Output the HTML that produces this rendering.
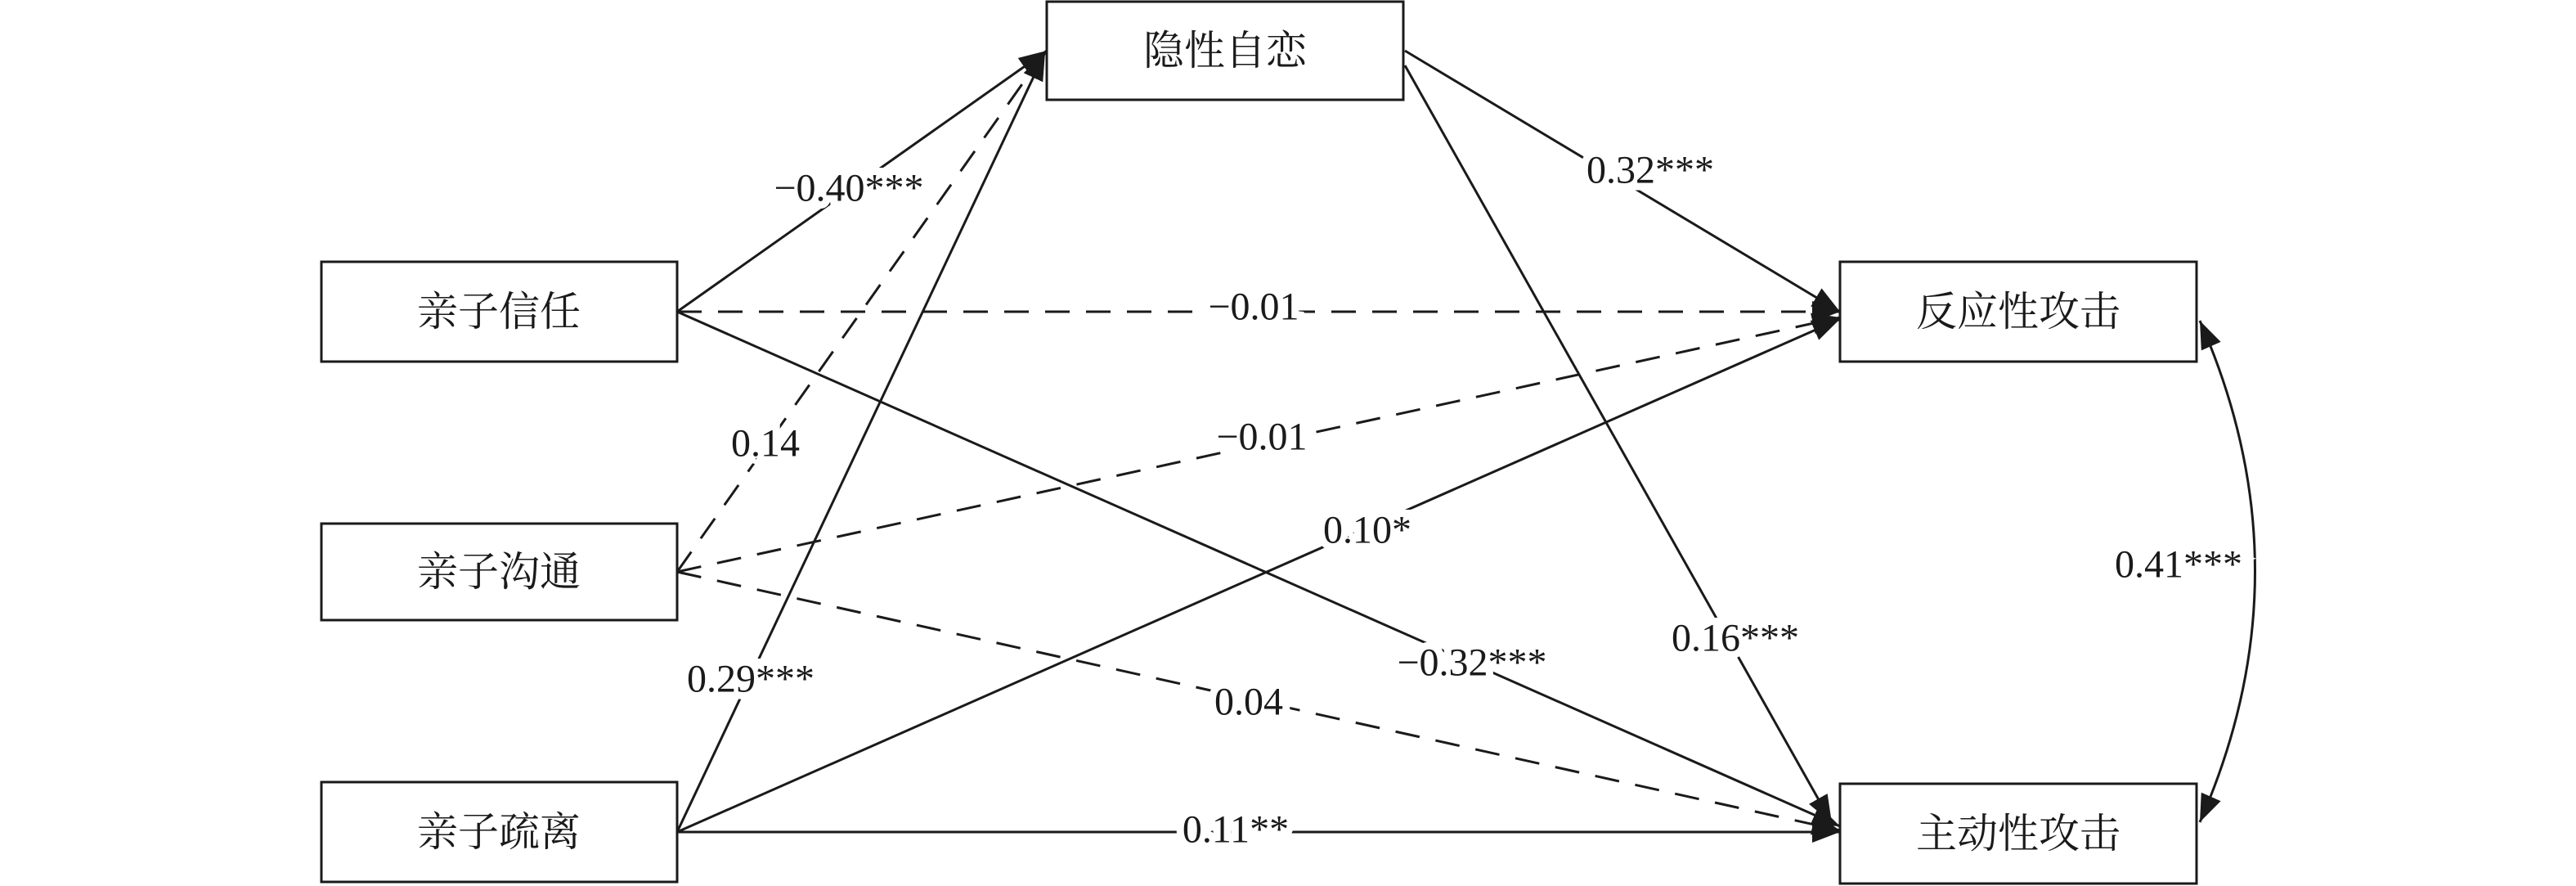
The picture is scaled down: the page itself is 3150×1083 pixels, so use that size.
<!DOCTYPE html>
<html><head><meta charset="utf-8"><style>
html,body{margin:0;padding:0;background:#fff;}
svg{display:block;}
.t{font-family:"Liberation Serif","Noto Serif CJK SC",serif;font-size:50px;fill:#1a1a1a;text-anchor:middle;dominant-baseline:central;}
.l{font-family:"Liberation Serif",serif;font-size:48px;fill:#1a1a1a;text-anchor:middle;dominant-baseline:central;paint-order:stroke;stroke:#fff;stroke-width:18px;}
</style></head><body>
<svg width="3150" height="1083" viewBox="0 0 3150 1083" xmlns="http://www.w3.org/2000/svg">
<defs>
<marker id="a" markerUnits="userSpaceOnUse" markerWidth="40" markerHeight="30" refX="34" refY="13" orient="auto">
<path d="M0,0 L34,13 L0,26 Z" fill="#1a1a1a"/></marker>
<marker id="as" markerUnits="userSpaceOnUse" markerWidth="40" markerHeight="30" refX="0" refY="13" orient="auto">
<path d="M34,0 L0,13 L34,26 Z" fill="#1a1a1a"/></marker>
</defs>
<g stroke="#1a1a1a" stroke-width="3" fill="none">
<line x1="828" y1="381" x2="1280" y2="62" marker-end="url(#a)"/>
<line x1="828" y1="1017" x2="1278" y2="64" marker-end="url(#a)"/>
<line x1="1718" y1="62" x2="2250" y2="381" marker-end="url(#a)"/>
<line x1="1718" y1="80" x2="2240" y2="1006" marker-end="url(#a)"/>
<line x1="828" y1="1017" x2="2250" y2="390" marker-end="url(#a)"/>
<line x1="828" y1="381" x2="2250" y2="1010" marker-end="url(#a)"/>
<line x1="828" y1="1017" x2="2250" y2="1017" marker-end="url(#a)"/>
<g stroke-dasharray="30,20">
<line x1="828" y1="699" x2="1276" y2="66"/>
<line x1="828" y1="381" x2="2250" y2="381" marker-end="url(#a)"/>
<line x1="828" y1="699" x2="2250" y2="388" marker-end="url(#a)"/>
<line x1="828" y1="699" x2="2250" y2="1015" marker-end="url(#a)"/>
</g>
<path d="M2690,392 Q2825,698 2690,1005" marker-start="url(#as)" marker-end="url(#a)"/>
</g>
<g fill="#fff" stroke="#1a1a1a" stroke-width="3">
<rect x="1280" y="2" width="436" height="120"/>
<rect x="393" y="320" width="435" height="122"/>
<rect x="393" y="640" width="435" height="118"/>
<rect x="393" y="956" width="435" height="122"/>
<rect x="2250" y="320" width="436" height="122"/>
<rect x="2250" y="958" width="436" height="122"/>
</g>
<text class="t" x="1498" y="62">隐性自恋</text>
<text class="t" x="610" y="381">亲子信任</text>
<text class="t" x="610" y="699">亲子沟通</text>
<text class="t" x="610" y="1017">亲子疏离</text>
<text class="t" x="2468" y="381">反应性攻击</text>
<text class="t" x="2468" y="1019">主动性攻击</text>
<text class="l" x="1038" y="230">−0.40***</text>
<text class="l" x="936" y="542">0.14</text>
<text class="l" x="918" y="830">0.29***</text>
<text class="l" x="2018" y="208">0.32***</text>
<text class="l" x="2122" y="780">0.16***</text>
<text class="l" x="1533" y="375">−0.01</text>
<text class="l" x="1543" y="534">−0.01</text>
<text class="l" x="1672" y="648">0.10*</text>
<text class="l" x="1800" y="810">−0.32***</text>
<text class="l" x="1527" y="858">0.04</text>
<text class="l" x="1511" y="1014">0.11**</text>
<text class="l" x="2664" y="690">0.41***</text>
</svg>
</body></html>
